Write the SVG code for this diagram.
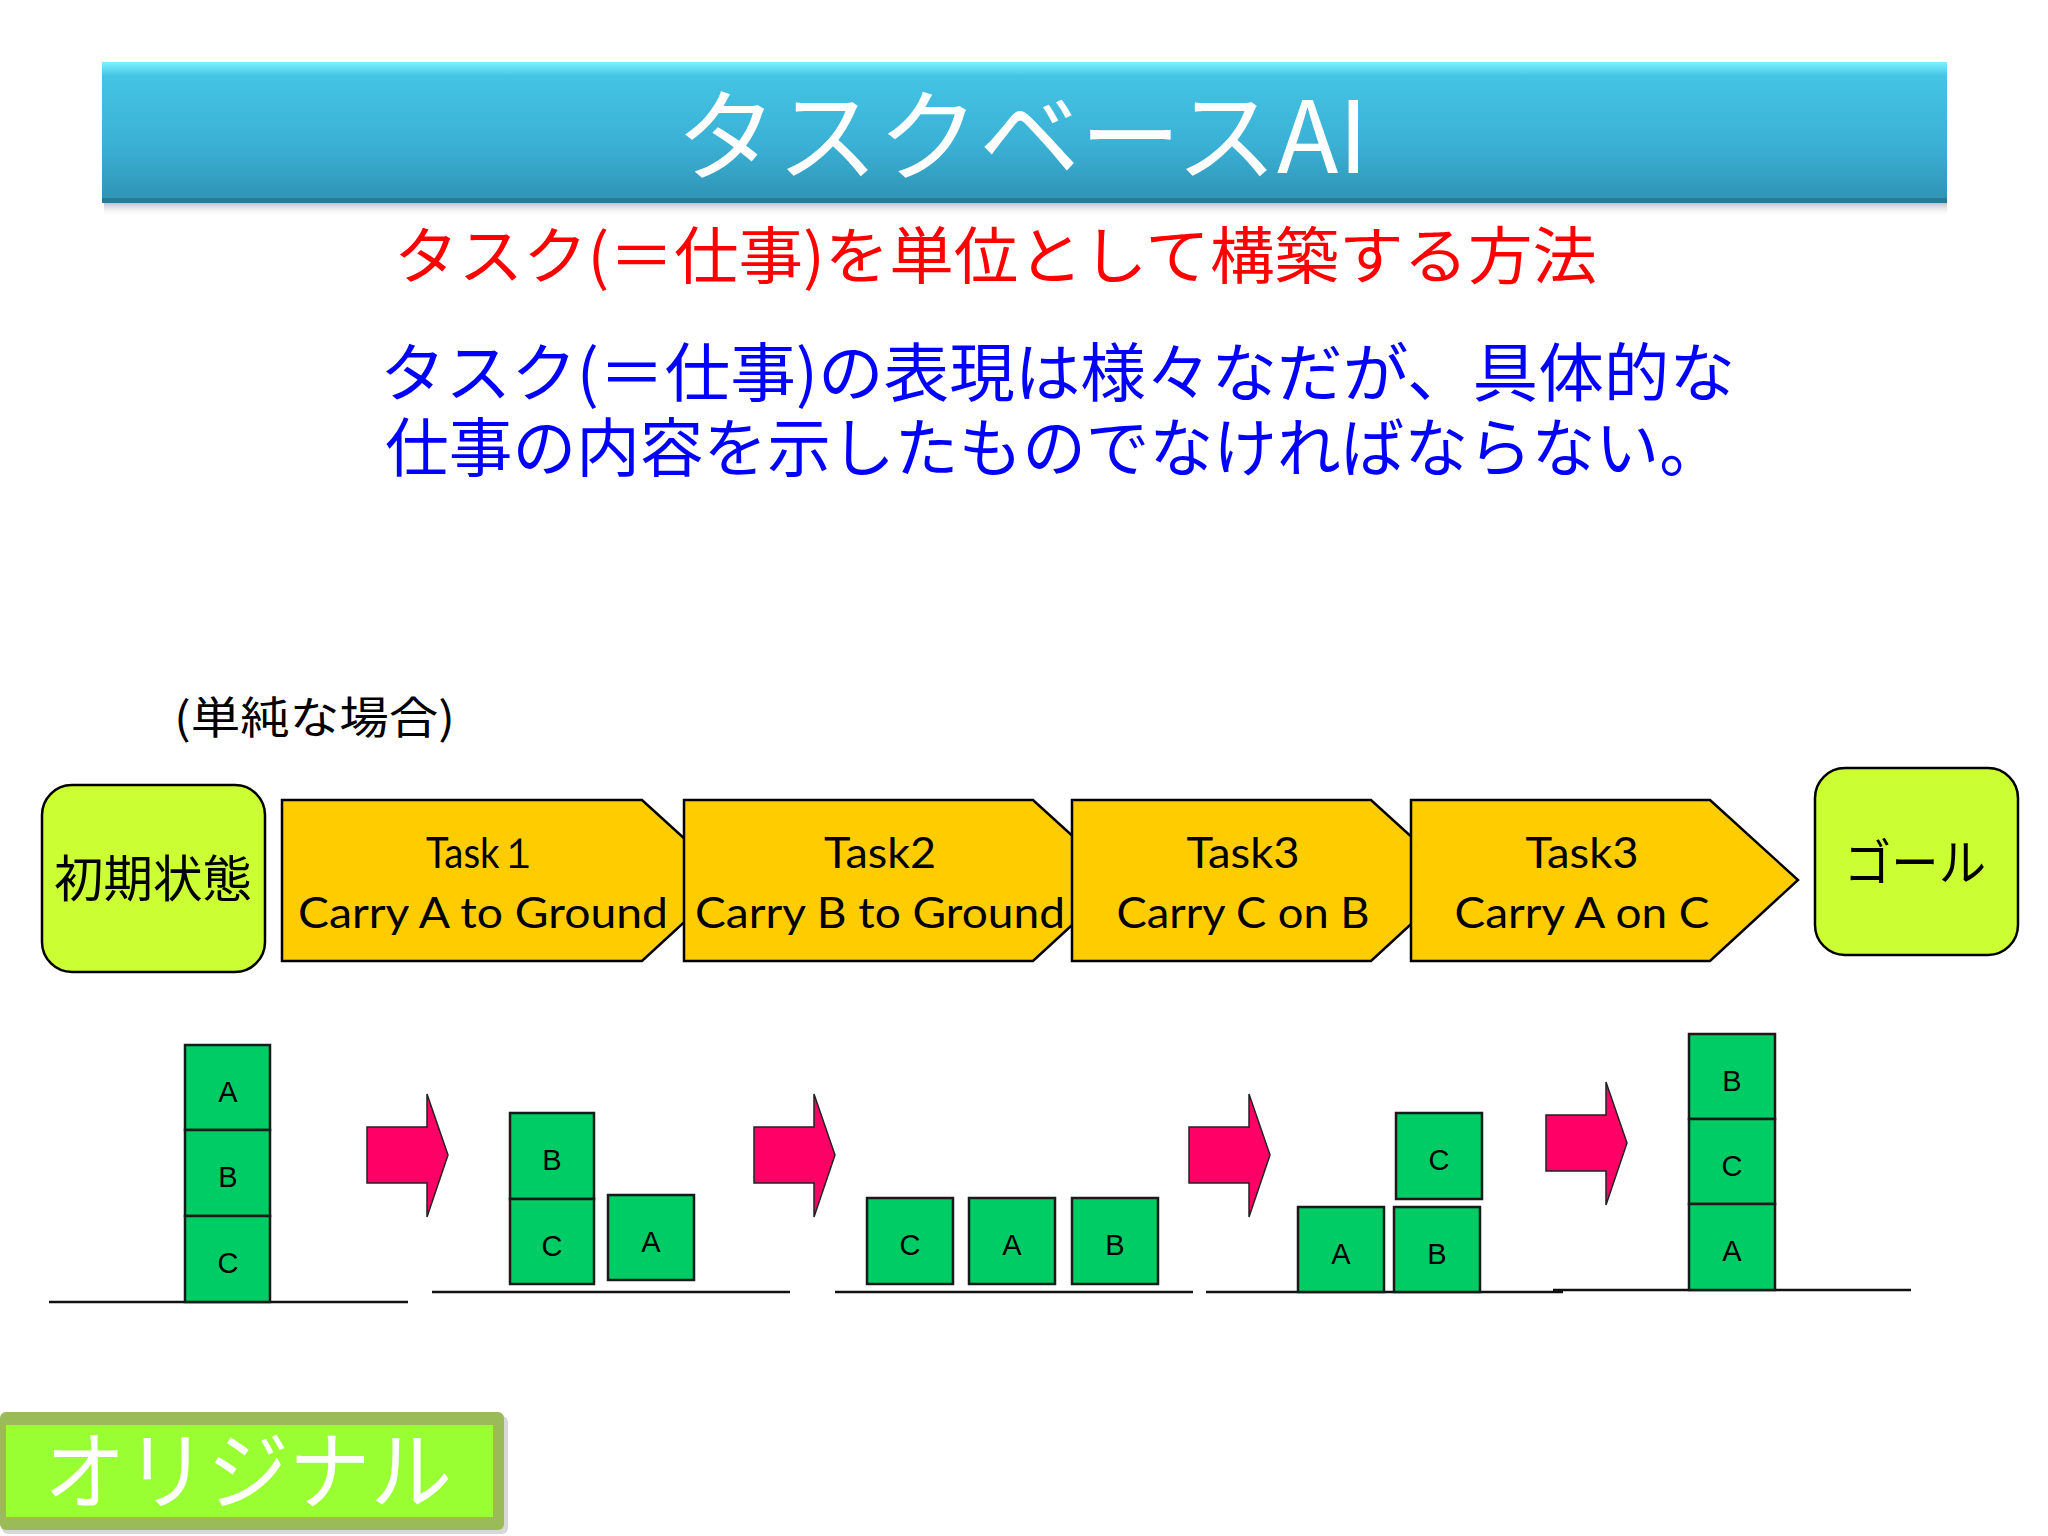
<svg xmlns="http://www.w3.org/2000/svg" xmlns:xlink="http://www.w3.org/1999/xlink" width="2048" height="1536" viewBox="0 0 2048 1536">
<defs>
<linearGradient id="barGrad" x1="0" y1="0" x2="0" y2="1">
<stop offset="0" stop-color="#7af2ff"/>
<stop offset="0.1" stop-color="#44c4e4"/>
<stop offset="0.6" stop-color="#3ab0d4"/>
<stop offset="1" stop-color="#2f92b4"/>
</linearGradient>
<linearGradient id="shadowGrad" x1="0" y1="0" x2="0" y2="1">
<stop offset="0" stop-color="#999" stop-opacity="0.6"/>
<stop offset="1" stop-color="#fff" stop-opacity="0"/>
</linearGradient>
<path id="pinkArrow" d="M0,0 H60 V-33 L81,28 L60,90 V56 H0 Z"/>
<style>
.jp{font-family:"Noto Sans CJK JP","Noto Sans CJK SC",sans-serif;}
.node{fill:#ccff33;stroke:#000;stroke-width:2.5;}
.task{fill:#ffcc00;stroke:#000;stroke-width:2.5;}
.tasktxt{font-family:Lato,"Open Sans",sans-serif;font-size:43px;fill:#000;text-anchor:middle;}
.blk{fill:#00cc66;stroke:#1a1a1a;stroke-width:2.5;}
.blktxt{font-family:"Liberation Sans",Arial,sans-serif;font-size:29px;fill:#000;text-anchor:middle;}
.ground{stroke:#111;stroke-width:2.5;fill:none;}
.arrow{fill:#ff0066;stroke:#222;stroke-width:1.5;}
</style>
</defs>
<rect width="2048" height="1536" fill="#ffffff"/>

<g id="title">
<rect x="104" y="203" width="1843" height="14" fill="url(#shadowGrad)"/>
<rect x="102" y="62" width="1845" height="141" fill="url(#barGrad)"/>
<rect x="102" y="198" width="1845" height="5" fill="#2a7a96"/>
<text x="1022" y="173" class="jp" font-size="100" fill="#ffffff" text-anchor="middle" textLength="692" lengthAdjust="spacingAndGlyphs">タスクベースAI</text>
</g>

<g id="subtitle">
<text x="394" y="279" class="jp" font-size="62" fill="#ff0000" textLength="1203" lengthAdjust="spacingAndGlyphs">タスク(＝仕事)を単位として構築する方法</text>
</g>

<g id="description">
<text x="380" y="396" class="jp" font-size="64" fill="#0000ff" textLength="1355" lengthAdjust="spacingAndGlyphs">タスク(＝仕事)の表現は様々なだが、具体的な</text>
<text x="385" y="471" class="jp" font-size="64" fill="#0000ff" textLength="1338" lengthAdjust="spacingAndGlyphs">仕事の内容を示したものでなければならない。</text>
</g>

<g id="case-label">
<text x="174" y="734" class="jp" font-size="44" fill="#000" textLength="281" lengthAdjust="spacingAndGlyphs">(単純な場合)</text>
</g>

<g id="node-initial">
<rect x="42" y="785" width="223" height="187" rx="30" class="node"/>
<text x="153" y="897" class="jp" font-size="50" fill="#000" text-anchor="middle" textLength="198" lengthAdjust="spacingAndGlyphs">初期状態</text>
</g>

<g id="node-task1">
<path d="M282,800 H642 L730,880 L642,961 H282 Z" class="task"/>
<text x="482" y="868" class="tasktxt" textLength="112" lengthAdjust="spacingAndGlyphs">Task１</text>
<text x="483" y="928" class="tasktxt" textLength="370" lengthAdjust="spacingAndGlyphs">Carry A to Ground</text>
</g>

<g id="node-task2">
<path d="M684,800 H1033 L1121,880 L1033,961 H684 Z" class="task"/>
<text x="880" y="868" class="tasktxt" textLength="112" lengthAdjust="spacingAndGlyphs">Task2</text>
<text x="880" y="928" class="tasktxt" textLength="370" lengthAdjust="spacingAndGlyphs">Carry B to Ground</text>
</g>

<g id="node-task3a">
<path d="M1072,800 H1371 L1459,880 L1371,961 H1072 Z" class="task"/>
<text x="1243" y="868" class="tasktxt" textLength="113" lengthAdjust="spacingAndGlyphs">Task3</text>
<text x="1243" y="928" class="tasktxt" textLength="253" lengthAdjust="spacingAndGlyphs">Carry C on B</text>
</g>

<g id="node-task3b">
<path d="M1411,800 H1710 L1798,880 L1710,961 H1411 Z" class="task"/>
<text x="1582" y="868" class="tasktxt" textLength="113" lengthAdjust="spacingAndGlyphs">Task3</text>
<text x="1582" y="928" class="tasktxt" textLength="255" lengthAdjust="spacingAndGlyphs">Carry A on C</text>
</g>

<g id="node-goal">
<rect x="1815" y="768" width="203" height="187" rx="30" class="node"/>
<text x="1915" y="881" class="jp" font-size="50" fill="#000" text-anchor="middle" textLength="142" lengthAdjust="spacingAndGlyphs">ゴール</text>
</g>

<g id="state1">
<line x1="49" y1="1302" x2="408" y2="1302" class="ground"/>
<rect x="185" y="1045" width="85" height="85" class="blk"/>
<rect x="185" y="1130" width="85" height="86" class="blk"/>
<rect x="185" y="1216" width="85" height="86" class="blk"/>
<text x="228" y="1102" class="blktxt">A</text>
<text x="228" y="1187" class="blktxt">B</text>
<text x="228" y="1273" class="blktxt">C</text>
</g>

<g id="state2">
<line x1="432" y1="1292" x2="790" y2="1292" class="ground"/>
<rect x="510" y="1113" width="84" height="86" class="blk"/>
<rect x="510" y="1199" width="84" height="85" class="blk"/>
<rect x="608" y="1195" width="86" height="85" class="blk"/>
<text x="552" y="1170" class="blktxt">B</text>
<text x="552" y="1256" class="blktxt">C</text>
<text x="651" y="1252" class="blktxt">A</text>
</g>

<g id="state3">
<line x1="835" y1="1292" x2="1193" y2="1292" class="ground"/>
<rect x="867" y="1198" width="86" height="86" class="blk"/>
<rect x="969" y="1198" width="86" height="86" class="blk"/>
<rect x="1072" y="1198" width="86" height="86" class="blk"/>
<text x="910" y="1255" class="blktxt">C</text>
<text x="1012" y="1255" class="blktxt">A</text>
<text x="1115" y="1255" class="blktxt">B</text>
</g>

<g id="state4">
<line x1="1206" y1="1292" x2="1563" y2="1292" class="ground"/>
<rect x="1298" y="1207" width="86" height="85" class="blk"/>
<rect x="1394" y="1207" width="86" height="85" class="blk"/>
<rect x="1396" y="1113" width="86" height="86" class="blk"/>
<text x="1341" y="1264" class="blktxt">A</text>
<text x="1437" y="1264" class="blktxt">B</text>
<text x="1439" y="1170" class="blktxt">C</text>
</g>

<g id="state5">
<line x1="1553" y1="1290" x2="1911" y2="1290" class="ground"/>
<rect x="1689" y="1034" width="86" height="85" class="blk"/>
<rect x="1689" y="1119" width="86" height="85" class="blk"/>
<rect x="1689" y="1204" width="86" height="86" class="blk"/>
<text x="1732" y="1091" class="blktxt">B</text>
<text x="1732" y="1176" class="blktxt">C</text>
<text x="1732" y="1261" class="blktxt">A</text>
</g>

<g id="connectors">
<use xlink:href="#pinkArrow" href="#pinkArrow" x="367" y="1127" class="arrow"/>
<use xlink:href="#pinkArrow" href="#pinkArrow" x="754" y="1127" class="arrow"/>
<use xlink:href="#pinkArrow" href="#pinkArrow" x="1189" y="1127" class="arrow"/>
<use xlink:href="#pinkArrow" href="#pinkArrow" x="1546" y="1115" class="arrow"/>
</g>

<g id="badge-original">
<rect x="2" y="1416" width="506" height="118" rx="6" fill="#d8d8d8"/>
<rect x="0" y="1412" width="504" height="118" rx="6" fill="#9bbb59"/>
<rect x="6" y="1425" width="487" height="92" fill="#99ff33"/>
<text x="44" y="1503" class="jp" font-size="86" fill="#ffffff" textLength="408" lengthAdjust="spacingAndGlyphs">オリジナル</text>
</g>
</svg>
